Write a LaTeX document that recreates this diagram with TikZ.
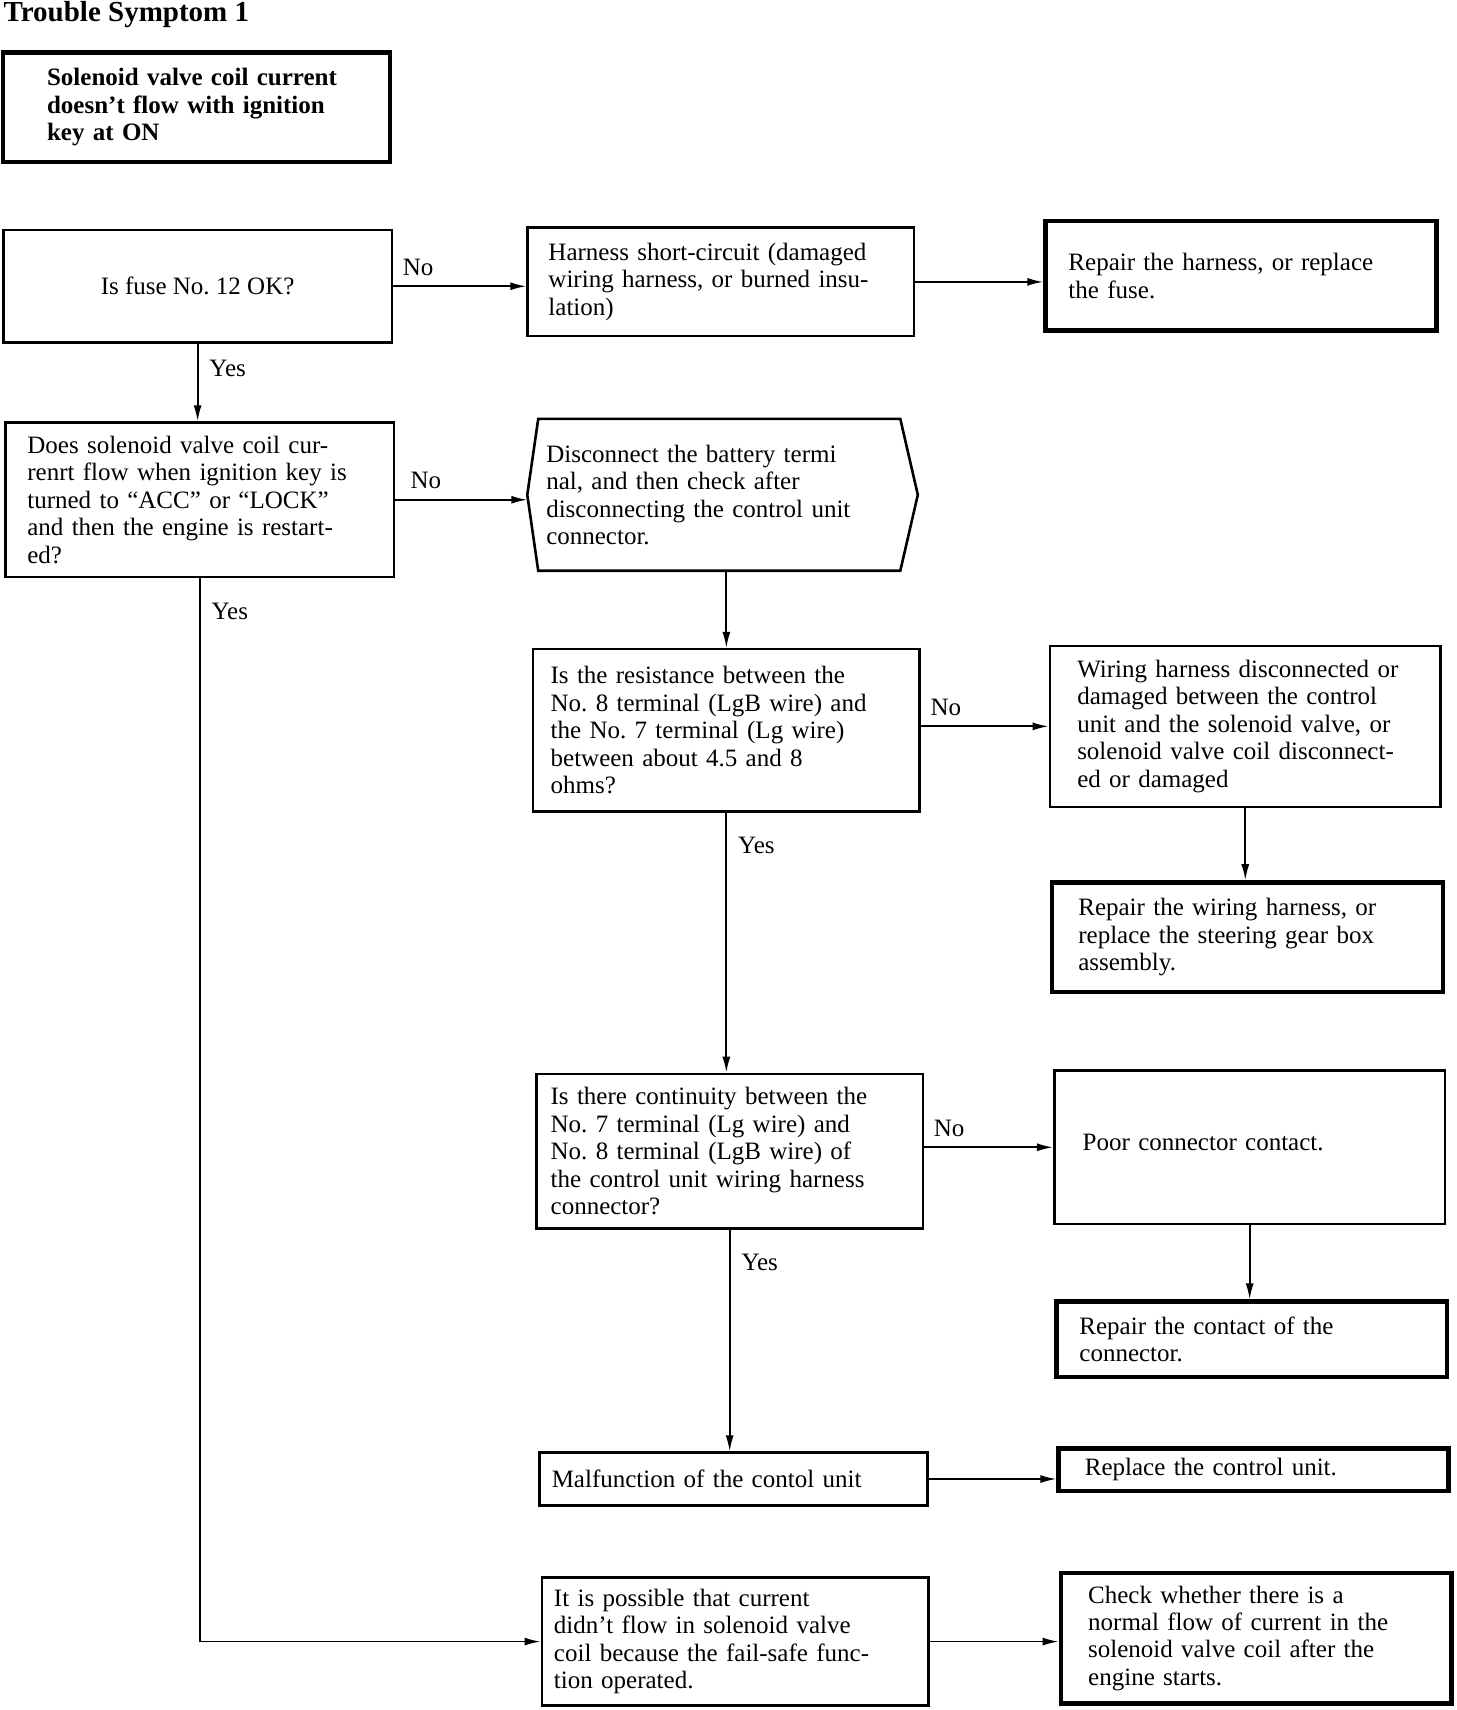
\documentclass[tikz,border=0pt]{standalone}
\usepackage{fontspec}
\setmainfont{Liberation Serif}
\usetikzlibrary{arrows.meta}
\frenchspacing

\newdimen\dpx \dpx=0.5474pt
\newcommand{\boxfont}{\fontsize{12.5}{13.7}\selectfont}

\tikzset{
  box/.style={draw, line width=1.3pt, rectangle, inner sep=0pt, align=left, font=\boxfont},
  heavybox/.style={box, line width=2.2pt},
  ghost/.style={rectangle, inner sep=0pt, align=left, font=\boxfont},
  arr/.style={line width=0.9pt, -{Latex[length=8pt,width=4pt]}},
  nolbl/.style={anchor=south west, inner sep=0pt, xshift=8\dpx, yshift=9\dpx, font=\boxfont},
  yeslbl/.style={anchor=north west, inner sep=0pt, xshift=10\dpx, yshift=-22\dpx, font=\boxfont},
}

\begin{document}
\begin{tikzpicture}[x=0.5474pt, y=-0.5474pt]
\useasboundingbox (0,0) rectangle (1330,1562);

% Title
\node[anchor=base west, inner sep=0pt, font=\fontsize{14.5}{16}\selectfont\bfseries] (title) at (3,20) {Trouble Symptom 1};

% Symptom
\node[heavybox, minimum width=353\dpx, minimum height=100\dpx, text width=273\dpx, font=\boxfont\bfseries] (sym) at (179.5,98)
  {Solenoid valve coil current\\doesn't flow with ignition\\key at ON};

% First row
\node[box, align=center, minimum width=355\dpx, minimum height=103\dpx] (fuse) at (180.5,261.5) {Is fuse No. 12 OK?};
\node[box, minimum width=353\dpx, minimum height=99\dpx, text width=315\dpx] (short) at (658.5,257.5)
  {Harness short-circuit (damaged\\wiring harness, or burned insu-\\lation)};
\node[heavybox, minimum width=357\dpx, minimum height=100\dpx, text width=315\dpx] (rep1) at (1133.5,252)
  {Repair the harness, or replace\\the fuse.};

% Second row
\node[box, minimum width=355\dpx, minimum height=141\dpx, text width=315\dpx] (acc) at (182.5,456.5)
  {Does solenoid valve coil cur-\\renrt flow when ignition key is\\turned to ``ACC'' or ``LOCK''\\and then the engine is restart-\\ed?};
\node[ghost, minimum width=356\dpx, minimum height=138\dpx, text width=322\dpx] (disc) at (660,452)
  {Disconnect the battery termi\\nal, and then check after\\disconnecting the control unit\\connector.};
\draw[line width=1.3pt] ([xshift=10\dpx]disc.north west) -- ([xshift=-16\dpx]disc.north east) -- (disc.east)
  -- ([xshift=-16\dpx]disc.south east) -- ([xshift=10\dpx]disc.south west) -- (disc.west) -- cycle;

% Resistance check
\node[box, minimum width=353\dpx, minimum height=148\dpx, text width=321\dpx] (res) at (663.5,667)
  {Is the resistance between the\\No. 8 terminal (LgB wire) and\\the No. 7 terminal (Lg wire)\\between about 4.5 and 8\\ohms?};
\node[box, minimum width=357\dpx, minimum height=147\dpx, text width=307\dpx] (wir) at (1137.5,663.5)
  {Wiring harness disconnected or\\damaged between the control\\unit and the solenoid valve, or\\solenoid valve coil disconnect-\\ed or damaged};
\node[heavybox, minimum width=357\dpx, minimum height=100\dpx, text width=309\dpx] (rep2) at (1139.5,856)
  {Repair the wiring harness, or\\replace the steering gear box\\assembly.};

% Continuity check
\node[box, minimum width=353\dpx, minimum height=141\dpx, text width=327\dpx] (cont) at (666.5,1051.5)
  {Is there continuity between the\\No. 7 terminal (Lg wire) and\\No. 8 terminal (LgB wire) of\\the control unit wiring harness\\connector?};
\node[box, minimum width=357\dpx, minimum height=140\dpx, text width=305\dpx] (poor) at (1141.5,1048)
  {\raisebox{5pt}{Poor connector contact.}};
\node[heavybox, minimum width=357\dpx, minimum height=69\dpx, text width=315\dpx] (rep3) at (1143.5,1223.5)
  {Repair the contact of the\\connector.};

% Control unit
\node[box, minimum width=354\dpx, minimum height=48\dpx, text width=332\dpx] (mal) at (670,1351)
  {Malfunction of the contol unit};
\node[heavybox, minimum width=356\dpx, minimum height=39\dpx, text width=308\dpx] (repl) at (1145,1342.5)
  {Replace the control unit.};

% Fail-safe
\node[box, minimum width=353\dpx, minimum height=117\dpx, text width=331\dpx] (poss) at (671.5,1499.5)
  {It is possible that current\\didn't flow in solenoid valve\\coil because the fail-safe func-\\tion operated.};
\node[heavybox, minimum width=357\dpx, minimum height=119\dpx, text width=307\dpx] (chk) at (1147.5,1496.5)
  {Check whether there is a\\normal flow of current in the\\solenoid valve coil after the\\engine starts.};

% Connectors
\draw[arr] (fuse.east) -- (fuse.east -| short.west) node[nolbl, pos=0] (no1) {No};
\draw[arr] (short.east) -- (short.east -| rep1.west);
\draw[arr] (fuse.south) -- (fuse.south |- acc.north) node[yeslbl, pos=0, yshift=8\dpx] (yes1) {Yes};
\draw[arr] (acc.east) -- (acc.east -| disc.west) node[nolbl, pos=0, xshift=5\dpx] (no2) {No};
\draw[arr] (res.north |- disc.south) -- (res.north);
\draw[arr] (res.east |- wir.west) -- (wir.west) node[nolbl, pos=0] (no3) {No};
\draw[arr] (wir.south) -- (wir.south |- rep2.north);
\draw[arr] (res.south) -- (res.south |- cont.north) node[yeslbl, pos=0] (yes3) {Yes};
\draw[arr] (cont.east |- poor.west) -- (poor.west) node[nolbl, pos=0] (no4) {No};
\draw[arr] (poor.south) -- (poor.south |- rep3.north);
\draw[arr] (cont.south) -- (cont.south |- mal.north) node[yeslbl, pos=0] (yes4) {Yes};
\draw[arr] (mal.east) -- (mal.east -| repl.west);
\draw[arr] (acc.south) |- (poss.west) node[yeslbl, pos=0] (yes2) {Yes};
\draw[arr] (poss.east) -- (poss.east -| chk.west);
\end{tikzpicture}
\end{document}
